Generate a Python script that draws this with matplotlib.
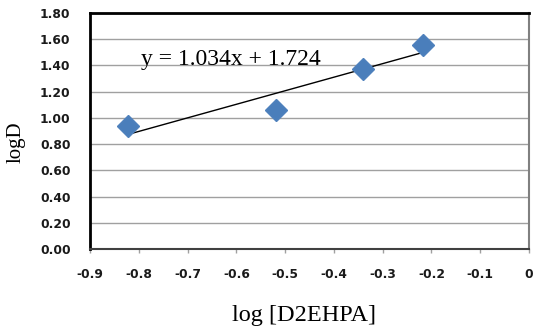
import numpy as np
import matplotlib
matplotlib.use("Agg")
import matplotlib.pyplot as plt

# log[D2EHPA] vs logD data points
log_d2ehpa = [-0.822, -0.519, -0.341, -0.217]
log_d = [0.938, 1.06, 1.371, 1.556]

# fitted trend line
slope = 1.034
intercept = 1.724

x_ticks = [-0.9, -0.8, -0.7, -0.6, -0.5, -0.4, -0.3, -0.2, -0.1, 0]
x_tick_labels = ["-0.9", "-0.8", "-0.7", "-0.6", "-0.5", "-0.4", "-0.3", "-0.2", "-0.1", "0"]
y_ticks = [0.0, 0.2, 0.4, 0.6, 0.8, 1.0, 1.2, 1.4, 1.6, 1.8]

fig = plt.figure(figsize=(5.34, 3.31), dpi=100)
ax = fig.add_axes([90 / 534, 82 / 331, 439 / 534, 236 / 331])

ax.set_xlim(-0.9, 0)
ax.set_ylim(0, 1.8)

# horizontal gridlines
ax.set_yticks(y_ticks)
ax.yaxis.grid(True, color="#a0a0a0", linewidth=1.0)
ax.set_axisbelow(True)

# trend line over the data range
xs = np.array([min(log_d2ehpa), max(log_d2ehpa)])
ax.plot(xs, slope * xs + intercept, color="black", linewidth=1.0, zorder=3)

ax.plot(log_d2ehpa, log_d, linestyle="none", marker="D", markersize=11,
        color="#4a7ebb", markeredgecolor="#4f81bd", zorder=4)

ax.text(-0.795, 1.40, "y = 1.034x + 1.724", fontsize=17, family="Liberation Serif",
        ha="left", va="baseline", zorder=5)

ax.set_xticks(x_ticks)
ax.set_xticklabels(x_tick_labels)
ax.set_yticklabels(["%.2f" % v for v in y_ticks])
ax.tick_params(axis="x", direction="out", length=3, width=1, color="#a0a0a0",
               pad=11, labelsize=8.8, labelcolor="#1a1a1a")
ax.tick_params(axis="y", length=0, pad=14, labelsize=8.8, labelcolor="#1a1a1a")
for lab in ax.get_xticklabels() + ax.get_yticklabels():
    lab.set_fontweight("bold")

ax.spines["left"].set_color("black")
ax.spines["left"].set_linewidth(2)
ax.spines["top"].set_color("black")
ax.spines["top"].set_linewidth(2)
ax.spines["right"].set_color("#808080")
ax.spines["right"].set_linewidth(1.5)
ax.spines["bottom"].set_color("#404040")
ax.spines["bottom"].set_linewidth(1.5)

fig.text(304 / 534, 1 - 316 / 331, "log [D2EHPA]", fontsize=17.5, family="Liberation Serif",
         ha="center", va="center")
fig.text(16 / 534, 1 - 142 / 331, "logD", fontsize=15, family="Liberation Serif",
         ha="center", va="center", rotation=90)

fig.savefig("out.png", dpi=100)
